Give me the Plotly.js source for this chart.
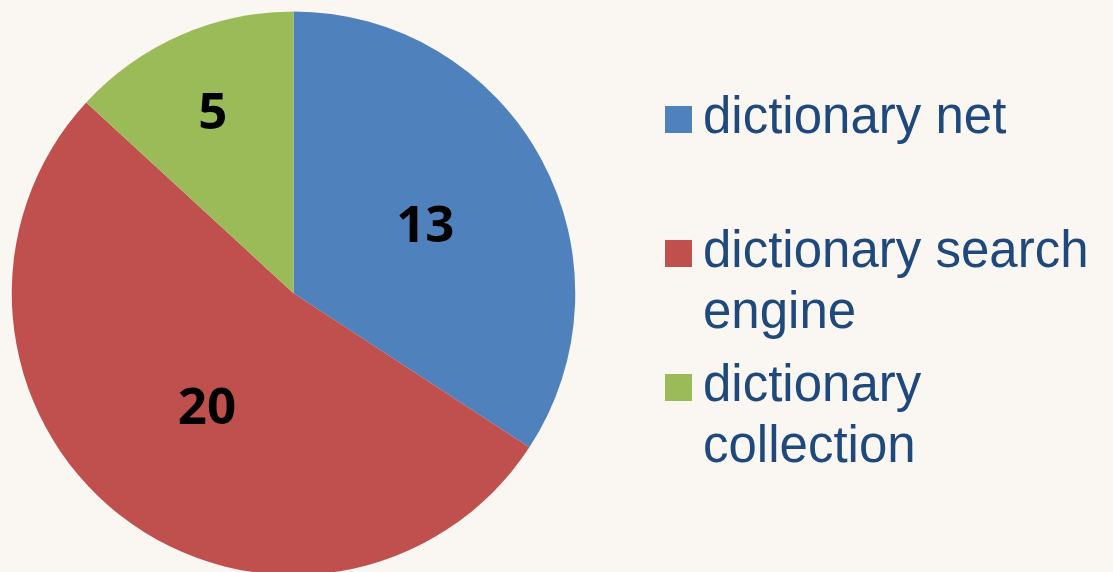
<!DOCTYPE html>
<html><head><meta charset="utf-8">
<script src="https://cdn.plot.ly/plotly-3.0.1.min.js"></script>
<style>html,body{margin:0;padding:0;overflow:hidden;background:#FAF6F2;}#chart{width:1113px;height:580px;}</style>
</head><body><div id="chart"></div>
<script>
const labels = ["dictionary net", "dictionary search engine", "dictionary collection"];
const legendLines = [["dictionary net"], ["dictionary search", "engine"], ["dictionary", "collection"]];
const values = [13, 20, 5];
const colors = ["#4F81BD", "#C0504D", "#9BBB59"];

const W = 1113, H = 580;
const trace = {
  type: "pie",
  labels: labels,
  values: values,
  sort: false,
  direction: "clockwise",
  rotation: 0,
  marker: {colors: colors, line: {width: 0}},
  textinfo: "value",
  textposition: "inside",
  insidetextorientation: "horizontal",
  textfont: {family: "Open Sans", size: 51, color: "#000000", weight: 700},
  hoverinfo: "label+value",
  showlegend: false,
  domain: {x: [11.5/W, 575.5/W], y: [1 - 575/H, 1 - 11.5/H]}
};

const shapes = [], annotations = [];
const sqTop = [106, 240, 374];
const FS = 51, LINE = 61, ASC = 0.955 * FS;
legendLines.forEach((lines, i) => {
  shapes.push({type: "rect", xref: "paper", yref: "paper",
    x0: 665/W, x1: 692/W, y0: 1 - (sqTop[i] + 27)/H, y1: 1 - sqTop[i]/H,
    fillcolor: colors[i], line: {width: 0}});
  lines.forEach((ln, j) => {
    const baseline = sqTop[i] + 29 + j * LINE;
    annotations.push({xref: "paper", yref: "paper", x: 702/W, y: 1 - (baseline - ASC)/H,
      xanchor: "left", yanchor: "top", align: "left", showarrow: false,
      text: ln, borderpad: 0,
      font: {family: "Liberation Sans, Arial", size: FS, color: "#1F497D"}});
  });
});

Plotly.newPlot("chart", [trace], {
  width: W, height: H,
  margin: {l: 0, r: 0, t: 0, b: 0},
  paper_bgcolor: "#FAF6F2",
  plot_bgcolor: "#FAF6F2",
  shapes: shapes,
  annotations: annotations
}, {displayModeBar: false, staticPlot: true});
</script></body></html>
